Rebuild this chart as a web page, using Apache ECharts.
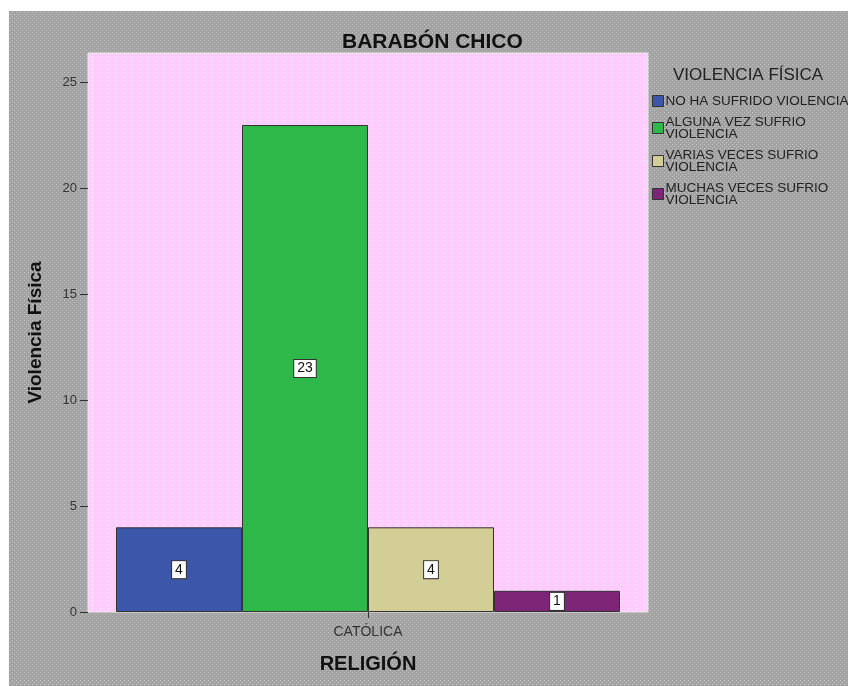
<!DOCTYPE html>
<html>
<head>
<meta charset="utf-8">
<script src="https://cdn.jsdelivr.net/npm/echarts@6/dist/echarts.min.js"></script>
<style>
  html, body { margin: 0; padding: 0; background: #fff; }
  #chart { width: 848px; height: 686px; }
</style>
</head>
<body>
<div id="chart"></div>
<script>
// datos
var categorias = ['CATÓLICA'];
var grupos = ['NO HA SUFRIDO VIOLENCIA', 'ALGUNA VEZ SUFRIO VIOLENCIA', 'VARIAS VECES SUFRIO VIOLENCIA', 'MUCHAS VECES SUFRIO VIOLENCIA'];
var etiquetasLeyenda = ['NO HA SUFRIDO VIOLENCIA', 'ALGUNA VEZ SUFRIO\nVIOLENCIA', 'VARIAS VECES SUFRIO\nVIOLENCIA', 'MUCHAS VECES SUFRIO\nVIOLENCIA'];
var noHaSufrido = [4];
var algunaVez = [23];
var variasVeces = [4];
var muchasVeces = [1];
var colores = ['#3c56a9', '#2fb84a', '#d3cd96', '#7d2577'];

// fondo gris tramado estilo SPSS
function patron(base, claro, paso) {
    var c = document.createElement('canvas');
    c.width = paso; c.height = paso;
    var ctx = c.getContext('2d');
    ctx.fillStyle = base;
    ctx.fillRect(0, 0, paso, paso);
    ctx.fillStyle = claro;
    ctx.fillRect(0, 0, 1, 1);
    ctx.fillRect(2, 2, 1, 1);
    return c;
}
function patronRosa() {
    var c = document.createElement('canvas');
    c.width = 8; c.height = 4;
    var ctx = c.getContext('2d');
    ctx.fillStyle = '#ffccff';
    ctx.fillRect(0, 0, 8, 4);
    ctx.fillStyle = '#ffe6ff';
    ctx.fillRect(4, 0, 1, 2);
    return c;
}

var myChart = echarts.init(document.getElementById('chart'));
var valores = [noHaSufrido, algunaVez, variasVeces, muchasVeces];
var series = [];
for (let i = 0; i < grupos.length; i++) {
    series.push({
        name: grupos[i],
        type: 'bar',
        data: valores[i],
        barGap: '0%',
        barCategoryGap: '10%',
        itemStyle: { color: colores[i], borderColor: '#333', borderWidth: 1 },
        label: {
            show: true,
            position: 'inside',
            color: '#111',
            fontSize: 14,
            fontFamily: 'Liberation Sans',
            backgroundColor: '#fff',
            borderColor: '#333',
            borderWidth: 1,
            padding: [2, 3, 1, 3]
        }
    });
}

var option = {
    backgroundColor: '#fff',
    animation: false,
    graphic: [{
        type: 'rect',
        z: -10,
        shape: { x: 9, y: 11, width: 839, height: 675 },
        style: { fill: { image: patron('#a2a2a2', '#c8c8c8', 4), repeat: 'repeat' } }
    }, {
        type: 'rect',
        z: -5,
        shape: { x: 88, y: 53, width: 560, height: 559 },
        style: { fill: { image: patronRosa(), repeat: 'repeat' }, stroke: '#e8e8e8', lineWidth: 1 }
    }],
    title: [{
        text: 'BARABÓN CHICO',
        left: 337,
        top: 27,
        textStyle: { fontFamily: 'Liberation Sans', fontSize: 21, fontWeight: 'bold', color: '#111' }
    }, {
        text: 'VIOLENCIA FÍSICA',
        left: 668,
        top: 62,
        textStyle: { fontFamily: 'Liberation Sans', fontSize: 17, fontWeight: 'normal', color: '#222' }
    }],
    legend: {
        orient: 'vertical',
        left: 647,
        top: 89,
        itemWidth: 11,
        itemHeight: 11,
        itemGap: 7,
        icon: 'rect',
        data: grupos,
        formatter: function (n) { return etiquetasLeyenda[grupos.indexOf(n)]; },
        itemStyle: { borderColor: '#333', borderWidth: 1 },
        textStyle: { fontFamily: 'Liberation Sans', fontSize: 13.5, color: '#222', lineHeight: 12, padding: [0, 0, 0, -3] }
    },
    grid: { left: 88, top: 53, width: 560, height: 559, containLabel: false },
    xAxis: {
        type: 'category',
        data: categorias,
        name: 'RELIGIÓN',
        nameLocation: 'middle',
        nameGap: 42,
        nameTextStyle: { fontFamily: 'Liberation Sans', fontSize: 20, fontWeight: 'bold', color: '#111' },
        axisLine: { show: false },
        axisTick: { show: true, alignWithLabel: true, length: 6, lineStyle: { color: '#333' } },
        axisLabel: { fontFamily: 'Liberation Sans', fontSize: 14, color: '#333', margin: 13 },
        splitLine: { show: false }
    },
    yAxis: {
        type: 'value',
        min: 0,
        max: 26.4,
        interval: 5,
        name: 'Violencia Física',
        nameLocation: 'middle',
        nameGap: 43,
        nameTextStyle: { fontFamily: 'Liberation Sans', fontSize: 19, fontWeight: 'bold', color: '#111' },
        axisLine: { show: false },
        axisTick: { show: true, length: 8, lineStyle: { color: '#333' } },
        axisLabel: {
            fontFamily: 'Liberation Sans', fontSize: 13, color: '#333', margin: 11,
            showMaxLabel: false,
            formatter: function (v) { return v % 5 === 0 ? v : ''; }
        },
        splitLine: { show: false }
    },
    series: series
};

myChart.setOption(option);
</script>
</body>
</html>
